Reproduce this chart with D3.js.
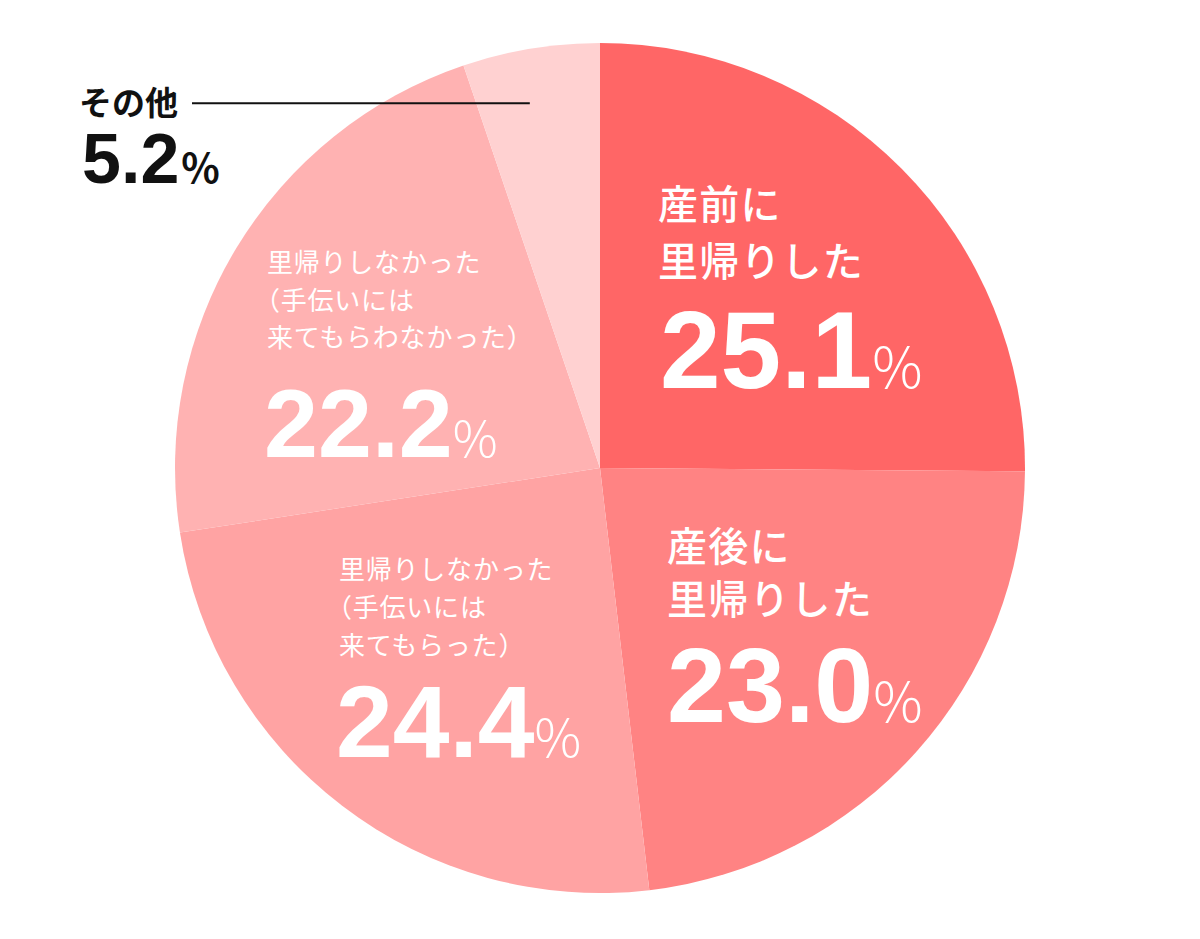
<!DOCTYPE html>
<html>
<head>
<meta charset="utf-8">
<script src="https://cdnjs.cloudflare.com/ajax/libs/d3/7.8.5/d3.min.js"></script>
<style>
  body { margin: 0; background: #fff; }
  text { font-family: "Noto Sans CJK JP", "Noto Sans", sans-serif; }
  .num { font-family: "Liberation Sans", Arial, sans-serif; font-weight: 700; }
</style>
</head>
<body>
<svg id="chart" width="1200" height="939"></svg>
<script>
// slices, clockwise from 12 o'clock
var labels = [
    ["産前に", "里帰りした"],
    ["産後に", "里帰りした"],
    ["里帰りしなかった", "（手伝いには", "来てもらった）"],
    ["里帰りしなかった", "（手伝いには", "来てもらわなかった）"],
    ["その他"]
];
var values = [25.1, 23.0, 24.4, 22.2, 5.2];
var colors = ["#ff6666", "#ff8383", "#ffa3a3", "#ffb2b2", "#ffd1d1"];

var svg = d3.select("#chart");
var cx = 600, cy = 468, radius = 425;

var g = svg.append("g")
    .attr("transform", "translate(" + cx + "," + cy + ")");

var pie = d3.pie().sort(null).value(function(d) { return d; });
var arc = d3.arc().innerRadius(0).outerRadius(radius);
var arcs = pie(values);

g.selectAll(".slice")
    .data(arcs)
    .enter()
    .append("path")
    .attr("class", "slice")
    .attr("d", arc)
    .style("fill", function(d, i) { return colors[i]; });

// label layout (relative to pie centre)
var layout = [
    { x: 58,   y: -249, size: 40, lh: 57,   weight: 500, nx: 60,   gap: 112, num: 109, pct: 56 },
    { x: 67,   y: 93,   size: 40, lh: 53,   weight: 500, nx: 67,   gap: 108, num: 106, pct: 55 },
    { x: -261, y: 111,  size: 26, lh: 38,   weight: 400, nx: -264, gap: 102, num: 102, pct: 52 },
    { x: -333, y: -196, size: 26, lh: 37.5, weight: 400, nx: -336, gap: 110, num: 97,  pct: 50 }
];

layout.forEach(function(l, i) {
    var t = g.append("text")
        .attr("y", l.y)
        .style("fill", "#fff");
    labels[i].forEach(function(line, j) {
        // full-width opening bracket sits tight to the margin
        var off = line.charAt(0) === "（" ? -l.size * 0.5 : 0;
        t.append("tspan")
            .attr("x", l.x + off)
            .attr("dy", j === 0 ? 0 : l.lh)
            .style("font-size", l.size + "px")
            .style("font-weight", l.weight)
            .style("letter-spacing", "0.03em")
            .text(line);
    });
    var last = l.y + l.lh * (labels[i].length - 1) + l.gap;
    var n = g.append("text")
        .attr("x", l.nx)
        .attr("y", last)
        .style("fill", "#fff");
    n.append("tspan")
        .attr("class", "num")
        .style("font-size", l.num + "px")
        .text(values[i].toFixed(1));
    n.append("tspan")
        .attr("dx", 0)
        .style("font-size", l.pct + "px")
        .style("font-weight", 300)
        .text("%");
});

// "その他" callout outside the pie
var other = arcs[4];
var mid = (other.startAngle + other.endAngle) / 2;
var tip = [Math.sin(mid) * radius * 0.87, -Math.cos(mid) * radius * 0.87];

svg.append("line")
    .attr("x1", 192)
    .attr("y1", cy + tip[1])
    .attr("x2", cx + tip[0] - 10)
    .attr("y2", cy + tip[1])
    .style("stroke", "#111")
    .style("stroke-width", 2);

svg.append("text")
    .attr("x", 79)
    .attr("y", 115)
    .style("font-size", "33px")
    .style("font-weight", 700)
    .style("fill", "#111")
    .text(labels[4][0]);

var o = svg.append("text")
    .attr("x", 82)
    .attr("y", 183)
    .style("fill", "#111");
o.append("tspan")
    .attr("class", "num")
    .style("font-size", "70px")
    .text(values[4].toFixed(1));
o.append("tspan")
    .attr("dx", 2)
    .style("font-size", "40px")
    .style("font-weight", 700)
    .text("%");
</script>
</body>
</html>
